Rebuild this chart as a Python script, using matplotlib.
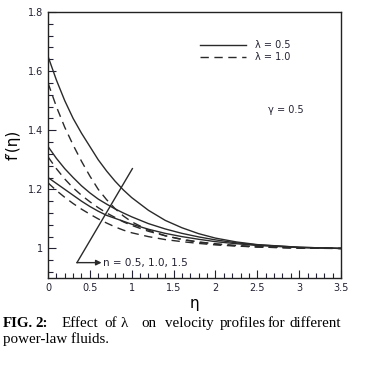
import matplotlib
matplotlib.use("Agg")
import matplotlib.pyplot as plt
from matplotlib.ticker import MultipleLocator, FixedLocator

eta = [0, 0.1, 0.2, 0.3, 0.4, 0.5, 0.6, 0.7, 0.8, 0.9, 1.0,
       1.2, 1.4, 1.6, 1.8, 2.0, 2.25, 2.5, 3.0, 3.5]
# lambda = 0.5 (solid)
s_n05 = [1.65, 1.57, 1.50, 1.44, 1.39, 1.345, 1.30, 1.262, 1.228, 1.198, 1.172,
         1.129, 1.095, 1.07, 1.05, 1.035, 1.022, 1.013, 1.004, 1.0]
s_n10 = [1.345, 1.305, 1.27, 1.24, 1.212, 1.188, 1.167, 1.15, 1.134, 1.12, 1.107,
         1.084, 1.066, 1.051, 1.039, 1.029, 1.019, 1.012, 1.004, 1.0]
s_n15 = [1.24, 1.22, 1.20, 1.18, 1.16, 1.142, 1.126, 1.112, 1.102, 1.092, 1.082,
         1.065, 1.051, 1.04, 1.031, 1.023, 1.016, 1.01, 1.003, 1.0]
# lambda = 1.0 (dashed)
d_n05 = [1.56, 1.48, 1.41, 1.35, 1.295, 1.245, 1.20, 1.165, 1.135, 1.11, 1.09,
         1.062, 1.043, 1.03, 1.021, 1.014, 1.009, 1.005, 1.001, 1.0]
d_n10 = [1.31, 1.27, 1.235, 1.205, 1.18, 1.158, 1.138, 1.12, 1.105, 1.09, 1.078,
         1.058, 1.043, 1.031, 1.022, 1.016, 1.01, 1.006, 1.002, 1.0]
d_n15 = [1.222, 1.196, 1.173, 1.152, 1.133, 1.116, 1.10, 1.086, 1.073, 1.062, 1.053,
         1.04, 1.03, 1.023, 1.017, 1.012, 1.008, 1.005, 1.001, 1.0]

x_ticks = [0, 0.5, 1, 1.5, 2, 2.5, 3, 3.5]
x_labels = ["0", "0.5", "1", "1.5", "2", "2.5", "3", "3.5"]
y_ticks = [1.0, 1.2, 1.4, 1.6, 1.8]
y_labels = ["1", "1.2", "1.4", "1.6", "1.8"]

W, H = 386, 377
fig = plt.figure(figsize=(W / 100, H / 100), dpi=100)
ax = fig.add_axes([48 / W, 1 - 278 / H, (341 - 48) / W, (278 - 12) / H])

col = "#2a2a2a"
lw = 1.0
for ys in (s_n05, s_n10, s_n15):
    ax.plot(eta, ys, color=col, lw=lw, solid_joinstyle="round")
for ys in (d_n05, d_n10, d_n15):
    ln, = ax.plot(eta, ys, color=col, lw=lw)
    ln.set_dashes((6, 4))

ax.set_xlim(0, 3.5)
ax.set_ylim(0.9, 1.8)
ax.xaxis.set_major_locator(FixedLocator(x_ticks))
ax.set_xticklabels(x_labels)
ax.yaxis.set_major_locator(FixedLocator(y_ticks))
ax.set_yticklabels(y_labels)
ax.xaxis.set_minor_locator(MultipleLocator(0.1))
ax.yaxis.set_minor_locator(MultipleLocator(0.04))
ax.tick_params(which="both", direction="in", top=False, right=False,
               labelsize=7, colors="#222233", width=0.8)
ax.tick_params(which="major", length=6)
ax.tick_params(which="minor", length=3.5)
for sp in ax.spines.values():
    sp.set_linewidth(1.0)
    sp.set_color("#222222")

ax.set_xlabel("η", fontsize=11, labelpad=2)
ax.set_ylabel("f′(η)", fontsize=11, labelpad=5)

# legend (drawn manually)
ax.plot([1.81, 2.37], [1.688, 1.688], color=col, lw=lw)
ln, = ax.plot([1.81, 2.37], [1.647, 1.647], color=col, lw=lw)
ln.set_dashes((6, 4))
ax.text(2.47, 1.688, "λ = 0.5", fontsize=7, va="center", ha="left", color="#222233")
ax.text(2.47, 1.647, "λ = 1.0", fontsize=7, va="center", ha="left", color="#222233")
ax.text(2.63, 1.467, "γ = 0.5", fontsize=7, va="center", ha="left", color="#222233")

# arrow annotation
ax.plot([1.008, 0.346], [1.27, 0.952], color=col, lw=1.0)
ax.annotate("", xy=(0.64, 0.952), xytext=(0.346, 0.952),
            arrowprops=dict(arrowstyle="-|>", color=col, lw=1.0,
                            mutation_scale=8, shrinkA=0, shrinkB=0))
ax.text(0.66, 0.952, "n = 0.5, 1.0, 1.5", fontsize=7.5, va="center", ha="left",
        color="#222233")

# caption
cap_font = "Liberation Serif"
fs = 10.8
y1 = 1 - 327 / H
y2 = 1 - 343 / H
fig.text(3 / W, y1, "FIG.", fontsize=fs, fontweight="bold", family=cap_font)
fig.text(35 / W, y1, "2:", fontsize=fs, fontweight="bold", family=cap_font)
words = [("Effect", 62), ("of", 104), ("λ", 121), ("on", 141), ("velocity", 165),
         ("profiles", 220), ("for", 268), ("different", 290)]
for w, xp in words:
    fig.text(xp / W, y1, w, fontsize=fs, family=[cap_font, "DejaVu Serif"])
fig.text(3 / W, y2, "power-law fluids.", fontsize=fs, family=cap_font)

fig.savefig("out.png", dpi=100)
